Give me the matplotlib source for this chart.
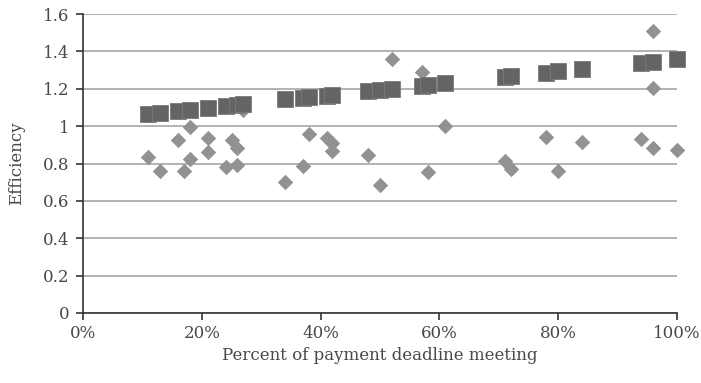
import matplotlib.pyplot as plt
from matplotlib.ticker import FuncFormatter

# Data
sq_x = [11, 13, 16, 18, 21, 24, 26, 27, 34, 37, 38, 41, 42, 48, 50, 52,
        57, 58, 61, 71, 72, 78, 80, 84, 94, 96, 100]
sq_y = [1.065, 1.072, 1.082, 1.087, 1.098, 1.108, 1.115, 1.117, 1.143, 1.152,
        1.156, 1.163, 1.166, 1.188, 1.193, 1.200, 1.216, 1.218, 1.229, 1.264,
        1.266, 1.286, 1.293, 1.305, 1.339, 1.345, 1.357]

dm_x = [11, 13, 16, 17, 18, 18, 21, 21, 24, 25, 26, 26, 27, 34, 37, 38, 41,
        42, 42, 48, 50, 52, 57, 58, 61, 71, 72, 78, 80, 84, 94, 96, 96, 96, 100]
dm_y = [0.833, 0.761, 0.926, 0.761, 0.997, 0.822, 0.935, 0.860, 0.783, 0.926,
        0.881, 0.792, 1.086, 0.703, 0.788, 0.956, 0.935, 0.911, 0.868, 0.845,
        0.685, 1.357, 1.291, 0.756, 1.000, 0.813, 0.770, 0.940, 0.760, 0.917,
        0.931, 1.509, 1.202, 0.881, 0.872]

y_ticks = [0, 0.2, 0.4, 0.6, 0.8, 1, 1.2, 1.4, 1.6]
x_ticks = [0, 20, 40, 60, 80, 100]

plt.rcParams['font.family'] = ['DejaVu Serif']

fig = plt.figure(figsize=(7.01, 3.83), dpi=100)
ax = fig.add_axes([0.1184, 0.1828, 0.8474, 0.7806])

ax.scatter(dm_x, dm_y, marker='D', s=62, color='#929292', linewidths=0,
           zorder=3, clip_on=False)
ax.scatter(sq_x, sq_y, marker='s', s=125, color='#646464',
           edgecolors='#7a7a7a', linewidths=0.6, zorder=4, clip_on=False)

ax.set_xlim(0, 100)
ax.set_ylim(0, 1.6)
ax.set_xticks(x_ticks)
ax.set_yticks(y_ticks)
ax.xaxis.set_major_formatter(FuncFormatter(lambda v, p: f"{int(v)}%"))
ax.yaxis.set_major_formatter(FuncFormatter(lambda v, p: f"{v:g}"))

ax.grid(axis='y', color='#a6a6a6', linewidth=1.2, zorder=0)
ax.set_axisbelow(True)
for s in ['top', 'right']:
    ax.spines[s].set_visible(False)
for s in ['left', 'bottom']:
    ax.spines[s].set_color('#333333')
    ax.spines[s].set_linewidth(1.2)

ax.tick_params(direction='out', length=5, width=1.2, color='#333333',
               labelsize=12, labelcolor='#484848', pad=4)
ax.tick_params(axis='y', pad=5)

ax.set_xlabel('Percent of payment deadline meeting', fontsize=12,
              color='#484848', labelpad=3)
ax.set_ylabel('Efficiency', fontsize=12, color='#484848', labelpad=13)

fig.savefig('out.png', dpi=100)
